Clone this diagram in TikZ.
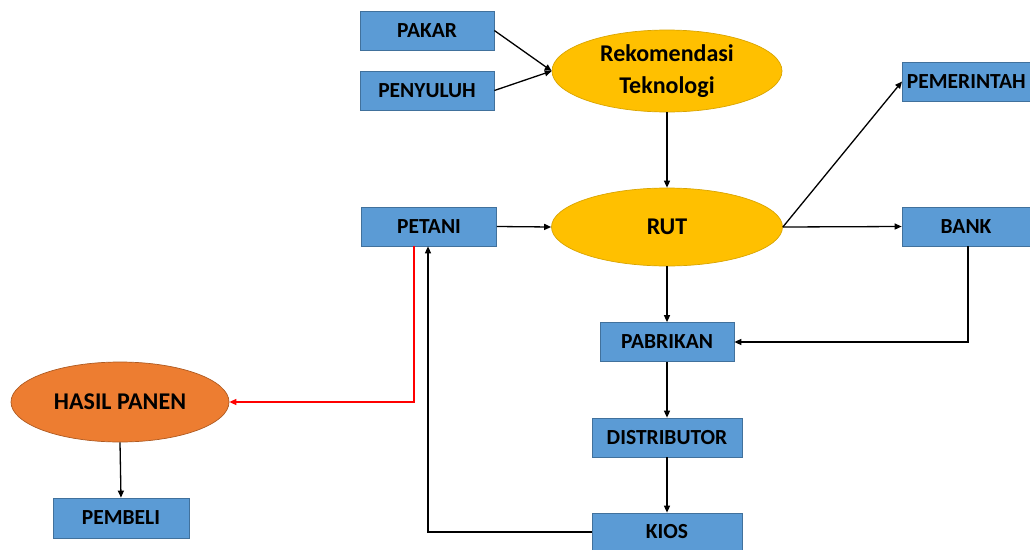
\documentclass[tikz,border=0pt]{standalone}
\usepackage{fontspec}
\setmainfont{Carlito}
\usetikzlibrary{arrows.meta,shapes.geometric}
\definecolor{boxblue}{HTML}{5B9BD5}
\definecolor{boxedge}{HTML}{41719C}
\definecolor{ygold}{HTML}{FFC000}
\definecolor{yedge}{HTML}{D9A400}
\definecolor{orng}{HTML}{ED7D31}
\definecolor{oedge}{HTML}{AE5A21}
\tikzset{
  boxnode/.style={rectangle, fill=boxblue, draw=boxedge, line width=0.7pt, minimum height=39pt, inner sep=0pt,
    font=\bfseries\fontsize{21.5}{26}\selectfont},
  yell/.style={ellipse, fill=ygold, draw=yedge, line width=0.7pt, inner sep=0pt, align=center,
    font=\bfseries\fontsize{24}{32}\selectfont},
  orell/.style={ellipse, fill=orng, draw=oedge, line width=0.7pt, inner sep=0pt,
    font=\bfseries\fontsize{24}{29}\selectfont},
  arr/.style={-{Triangle[length=7pt,width=6pt]}, line width=1.3pt, black},
  redarr/.style={-{Triangle[length=7pt,width=6pt]}, line width=1.3pt, red}
}
\begin{document}
\begin{tikzpicture}[x=1pt,y=-1pt]
\useasboundingbox (0,0) rectangle (1030,549);
\node[boxnode, minimum width=134pt] (pakar) at (427,30.5) {PAKAR};
\node[boxnode, minimum width=134pt] (penyuluh) at (427,90.5) {PENYULUH};
\node[yell, minimum width=230pt, minimum height=82pt] (rek) at (667,71) {Rekomendasi\\Teknologi};
\node[boxnode, minimum width=135pt] (petani) at (429,226.5) {PETANI};
\node[yell, minimum width=231pt, minimum height=78pt] (rut) at (667,227) {RUT};
\node[boxnode, minimum width=138pt, anchor=west] (pemerintah) at (902,81.5) {\hspace*{-10pt}PEMERINTAH};
\node[boxnode, minimum width=128pt] (bank) at (966,226.5) {BANK};
\node[boxnode, minimum width=134pt] (pabrikan) at (667,342) {PABRIKAN};
\node[boxnode, minimum width=150pt] (distributor) at (667,437.5) {DISTRIBUTOR};
\node[boxnode, minimum width=150pt, minimum height=38pt] (kios) at (667,532) {KIOS};
\node[orell, minimum width=218pt, minimum height=80pt] (hasil) at (120,402) {HASIL PANEN};
\node[boxnode, minimum width=136pt, minimum height=40pt] (pembeli) at (121,518) {PEMBELI};

\draw[arr] (pakar.east) -- (rek.west);
\draw[arr] (penyuluh.east) -- (rek.west);
\draw[arr] (rek.south) -- (rut.north);
\draw[arr] (petani.east) -- (rut.west);
\draw[arr] (rut.east) -- (pemerintah.west);
\draw[arr] (rut.east) -- (bank.west);
\draw[arr] (rut.south) -- (pabrikan.north);
\draw[arr] ([xshift=2pt]bank.south) |- (pabrikan.east);
\draw[arr] (pabrikan.south) -- (distributor.north);
\draw[arr] (distributor.south) -- (kios.north);
\draw[arr] (kios.west) -| ([xshift=-1pt]petani.south);
\draw[redarr] ([xshift=-15pt]petani.south) |- (hasil.east);
\draw[arr] (hasil.south) -- (pembeli.north);
\end{tikzpicture}
\end{document}
